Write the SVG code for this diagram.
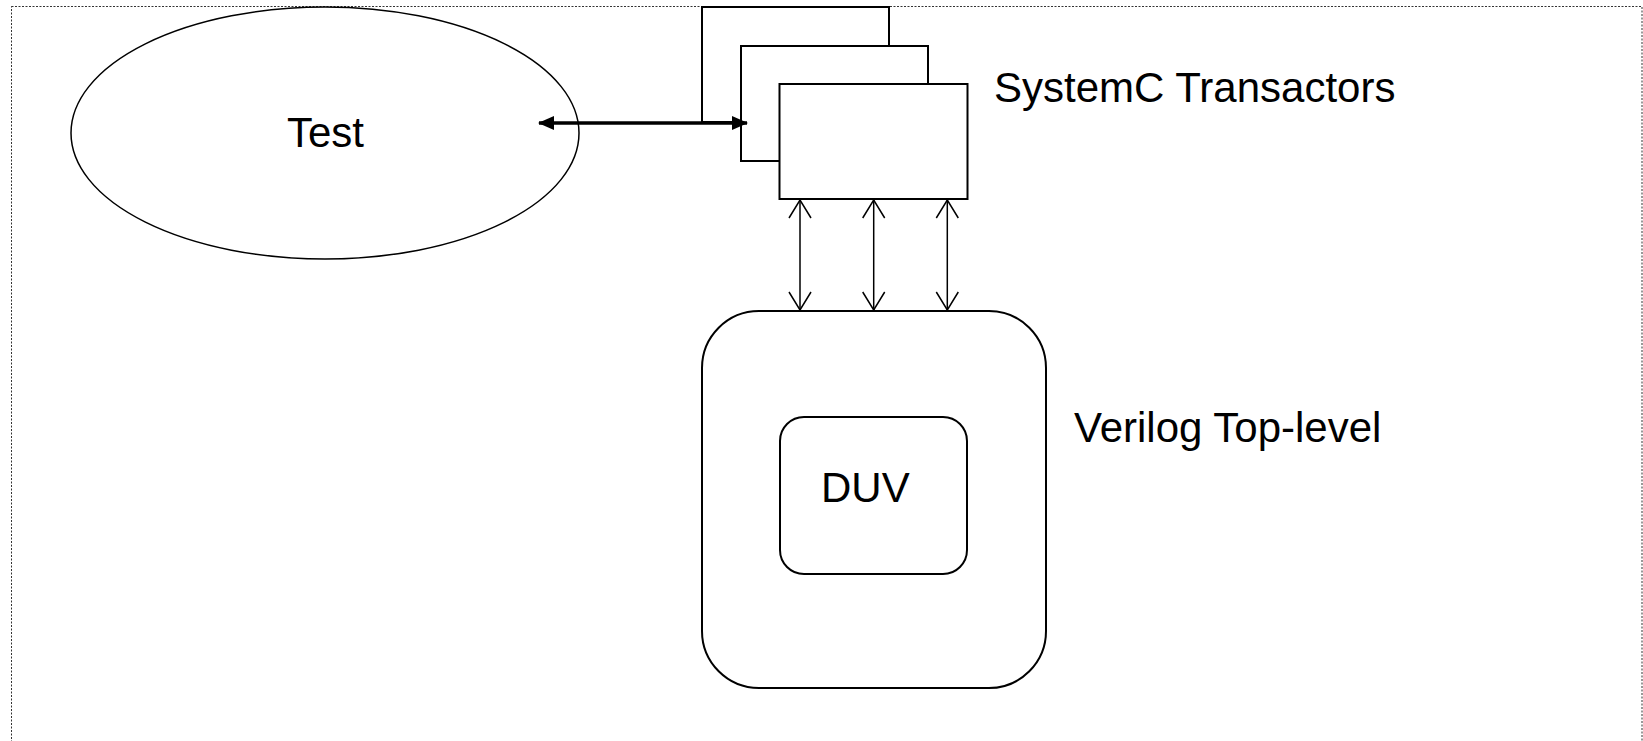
<svg xmlns="http://www.w3.org/2000/svg" width="1643" height="741" viewBox="0 0 1643 741">
<style>
.lbl{font-family:"Liberation Sans",Arial,sans-serif;font-size:42px;fill:#000}
.box{fill:#fff;stroke:#000;stroke-width:2}
.thin{stroke:#000;stroke-width:1.5;fill:none}
</style>
<defs>
<marker id="openArr" viewBox="0 0 20 24" refX="19" refY="12" markerWidth="20" markerHeight="24" markerUnits="userSpaceOnUse" orient="auto-start-reverse">
<path d="M1,1 L19,12 L1,23" fill="none" stroke="#000" stroke-width="1.5"/>
</marker>
<marker id="fillArr" viewBox="0 0 16 14" refX="15" refY="7" markerWidth="16" markerHeight="14" markerUnits="userSpaceOnUse" orient="auto-start-reverse">
<path d="M0,0 L16,7 L0,14 Z" fill="#000"/>
</marker>
</defs>
<rect x="11.5" y="6.5" width="1630.5" height="750" fill="none" stroke="#333" stroke-width="1" stroke-dasharray="2 1.5"/>
<g id="test">
<ellipse cx="325" cy="133" rx="254" ry="126" fill="#fff" stroke="#000" stroke-width="1.5"/>
<text class="lbl" x="287" y="147">Test</text>
</g>
<g id="transactors">
<rect class="box" x="702" y="7" width="187" height="115"/>
<rect class="box" x="741" y="46" width="187" height="115"/>
<rect class="box" x="779.5" y="84" width="188" height="115"/>
<text class="lbl" x="994" y="101.5">SystemC Transactors</text>
</g>
<g id="verilog-top">
<rect class="box" x="702" y="311" width="344" height="377" rx="57" ry="57"/>
<text class="lbl" x="1074" y="441.5">Verilog Top-level</text>
</g>
<g id="duv">
<rect class="box" x="780" y="417" width="187" height="157" rx="24" ry="24"/>
<text class="lbl" x="821" y="501.5">DUV</text>
</g>
<g id="connectors">
<line x1="539" y1="123" x2="747" y2="123" stroke="#000" stroke-width="3.5" marker-start="url(#fillArr)" marker-end="url(#fillArr)"/>
<line class="thin" x1="800" y1="200" x2="800" y2="310" marker-start="url(#openArr)" marker-end="url(#openArr)"/>
<line class="thin" x1="873.7" y1="200" x2="873.7" y2="310" marker-start="url(#openArr)" marker-end="url(#openArr)"/>
<line class="thin" x1="947.3" y1="200" x2="947.3" y2="310" marker-start="url(#openArr)" marker-end="url(#openArr)"/>
</g>
</svg>
